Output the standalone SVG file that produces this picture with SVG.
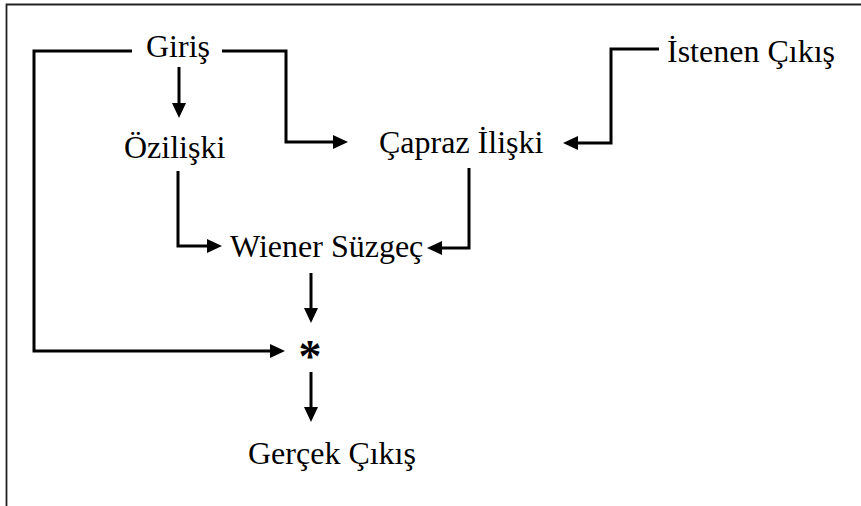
<svg xmlns="http://www.w3.org/2000/svg" width="861" height="506" viewBox="0 0 861 506">
  <style>
    .label { font-family: "Liberation Serif", "Times New Roman", serif; font-size: 32px; fill: #000; }
    .star { font-family: "Liberation Serif", "Times New Roman", serif; font-size: 46px; font-weight: bold; fill: #000; }
    .wire { fill: none; stroke: #000; stroke-width: 3; marker-end: url(#head); }
    .frame { fill: none; stroke: #222; stroke-width: 1.8; }
  </style>
  <defs>
    <marker id="head" markerUnits="userSpaceOnUse" markerWidth="16" markerHeight="16" refX="5" refY="7" orient="auto">
      <path d="M0,0 L15,7 L0,14 z" fill="#000"/>
    </marker>
  </defs>

  <rect width="861" height="506" fill="#fff"/>

  <!-- open frame: top and left edges -->
  <path class="frame" d="M6.5,506 V4.5 H861"/>

  <!-- connectors -->
  <g id="connectors">
    <path class="wire" d="M132,51 H34 V351 H275"/>
    <path class="wire" d="M222,51 H286 V142 H338"/>
    <path class="wire" d="M179,67 V108"/>
    <path class="wire" d="M178,171 V246 H212"/>
    <path class="wire" d="M469,168 V248 H437"/>
    <path class="wire" d="M659,49 H611 V143 H573"/>
    <path class="wire" d="M311,273 V313"/>
    <path class="wire" d="M311,372 V412"/>
  </g>

  <!-- nodes -->
  <g id="giris"><text class="label" x="146" y="57">Giriş</text></g>
  <g id="ozilisk"><text class="label" x="124" y="158">Özilişki</text></g>
  <g id="capraz"><text class="label" x="379" y="153">Çapraz İlişki</text></g>
  <g id="istenen"><text class="label" x="667" y="62">İstenen Çıkış</text></g>
  <g id="wiener"><text class="label" x="230" y="257">Wiener Süzgeç</text></g>
  <g id="carpim"><text class="star" x="310" y="372" text-anchor="middle">*</text></g>
  <g id="gercek"><text class="label" x="248" y="464">Gerçek Çıkış</text></g>
</svg>
